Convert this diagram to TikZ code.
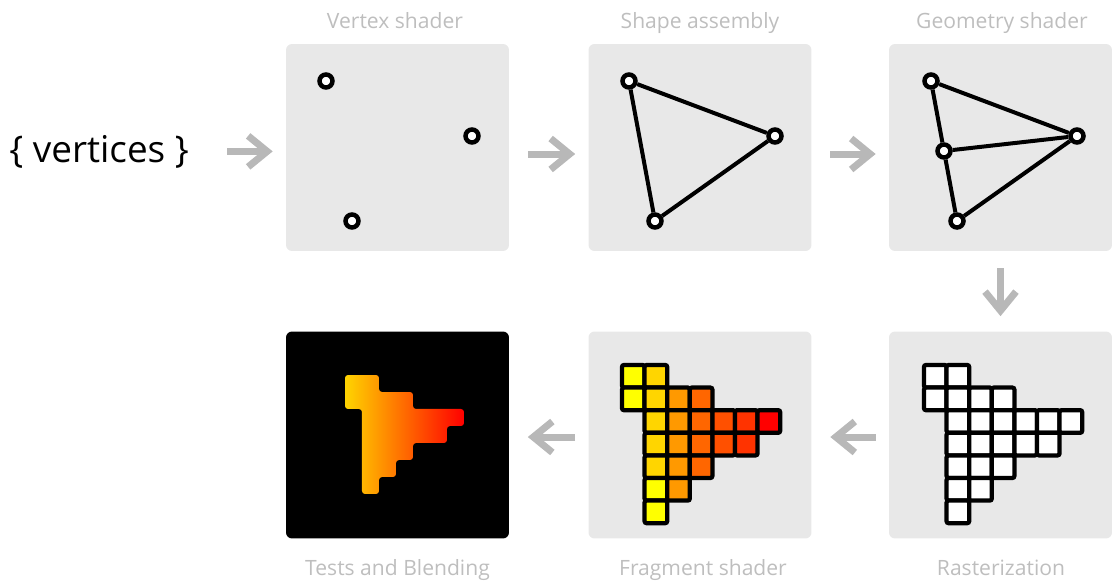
\documentclass[tikz,border=0pt]{standalone}
\usepackage{fontspec}
\setmainfont{Open Sans}
\usetikzlibrary{arrows.meta}
\definecolor{panelgray}{HTML}{E8E8E8}
\definecolor{arrowgray}{HTML}{B8B8B8}
\definecolor{capgray}{HTML}{BEBEBE}
\definecolor{fyel}{HTML}{FFFF00}
\definecolor{fgold}{HTML}{FFD500}
\definecolor{forng}{HTML}{FF9900}
\definecolor{fothree}{HTML}{FF6600}
\definecolor{fofour}{HTML}{FF5000}
\definecolor{fofive}{HTML}{FF3300}
\definecolor{fred}{HTML}{FF0000}
\definecolor{blendleft}{HTML}{FFD400}
\definecolor{blendmid}{HTML}{FF7800}

\begin{document}
\begin{tikzpicture}[
  x=0.02cm, y=-0.02cm,
  panel/.style={fill=panelgray, rounded corners=0.12cm, minimum width=4.46cm,
                minimum height=4.14cm, inner sep=0pt},
  stagelabel/.style={text=capgray, font=\fontsize{12}{14}\selectfont, anchor=base, inner sep=0pt},
  flow/.style={draw=arrowgray, line width=0.14cm,
               -{Straight Barb[length=0.38cm, width=0.62cm]}},
  vert/.style={circle, draw, fill=white, line width=0.09cm, minimum size=0.26cm, inner sep=0pt},
  wire/.style={line width=0.08cm},
  cell/.style={draw, line width=0.085cm, rounded corners=0.04cm},
]
\useasboundingbox (0,0) rectangle (1113,582);

% panels
\node[panel] (vshader)  at (397.5,147.5) {};
\node[panel] (assembly) at (700,147.5) {};
\node[panel] (geometry) at (1000.5,147.5) {};
\node[panel, fill=black] (tests) at (397.5,435) {};
\node[panel] (fragment) at (700,435) {};
\node[panel] (raster)   at (1000.5,435) {};

% captions
\node[stagelabel] (vscap) at (395,28) {Vertex shader};
\node[stagelabel] (sacap) at (700,28) {Shape assembly};
\node[stagelabel] (gscap) at (1002,28) {Geometry shader};
\node[stagelabel] (tbcap) at (397.5,575) {Tests and Blending};
\node[stagelabel] (fscap) at (703,575) {Fragment shader};
\node[stagelabel] (rzcap) at (1001,575) {Rasterization};

\node[font=\fontsize{21}{24}\selectfont, anchor=base west, inner sep=0pt] (vtx) at (9,162) {\{ vertices \}};

% vertex shader
\node[vert] (a1) at (326,81) {};
\node[vert] (a2) at (472,136) {};
\node[vert] (a3) at (352,221) {};

% shape assembly
\node[vert] (b1) at (629,81) {};
\node[vert] (b2) at (775,136) {};
\node[vert] (b3) at (655,221) {};
\draw[wire] (b1) -- (b2) -- (b3) -- (b1);

% geometry shader
\node[vert] (g1) at (931,81) {};
\node[vert] (g2) at (1077,136) {};
\node[vert] (g3) at (957,221) {};
\node[vert] (g4) at (944,151) {};
\draw[wire] (g1) -- (g2) -- (g3) -- (g4) -- (g1);
\draw[wire] (g4) -- (g2);

% rasterization and fragments
\begin{scope}[shift={(924,365)}, x=0.452cm, y=-0.452cm]
  \foreach \c/\r in {0/0,1/0,0/1,1/1,2/1,3/1,1/2,2/2,3/2,4/2,5/2,6/2,
                     1/3,2/3,3/3,4/3,5/3,1/4,2/4,3/4,1/5,2/5,1/6}
    \filldraw[cell, fill=white] (\c,\r) rectangle +(1,1);
\end{scope}
\begin{scope}[shift={(622,365)}, x=0.452cm, y=-0.452cm]
  \foreach \c/\r/\col in {0/0/fyel,1/0/fgold,0/1/fyel,1/1/fgold,2/1/forng,3/1/fothree,
                          1/2/fgold,2/2/forng,3/2/fothree,4/2/fofour,5/2/fofive,6/2/fred,
                          1/3/fgold,2/3/forng,3/3/fothree,4/3/fofour,5/3/fofive,
                          1/4/fgold,2/4/forng,3/4/fothree,1/5/fyel,2/5/forng,1/6/fyel}
    \filldraw[cell, fill=\col] (\c,\r) rectangle +(1,1);
\end{scope}

% tests and blending
\begin{scope}[shift={(345,375)}, x=0.34cm, y=-0.34cm]
  \shade[left color=blendleft, middle color=blendmid, right color=fred, rounded corners=0.06cm]
    (0,0) -- (2,0) -- (2,1) -- (4,1) -- (4,2) -- (7,2) -- (7,3) -- (6,3) -- (6,4)
    -- (4,4) -- (4,5) -- (3,5) -- (3,6) -- (2,6) -- (2,7) -- (1,7) -- (1,2) -- (0,2) -- cycle;
\end{scope}

% arrows
\draw[flow, shorten <=0.76cm, shorten >=0.26cm] (vtx.east) -- (vtx.east -| vshader.west);
\draw[flow, shorten <=0.37cm, shorten >=0.26cm] ([yshift=-0.13cm]vshader.east) -- ([yshift=-0.13cm]assembly.west);
\draw[flow, shorten <=0.37cm, shorten >=0.26cm] ([yshift=-0.13cm]assembly.east) -- ([yshift=-0.13cm]geometry.west);
\draw[flow, shorten <=0.34cm, shorten >=0.3cm] (geometry.south) -- (raster.north);
\draw[flow, shorten <=0.26cm, shorten >=0.37cm] ([yshift=-0.04cm]raster.west) -- ([yshift=-0.04cm]fragment.east);
\draw[flow, shorten <=0.26cm, shorten >=0.37cm] ([yshift=-0.04cm]fragment.west) -- ([yshift=-0.04cm]tests.east);

\end{tikzpicture}
\end{document}
